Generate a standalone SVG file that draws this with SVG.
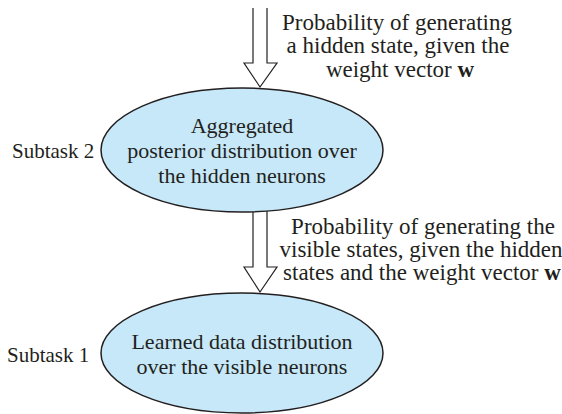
<svg xmlns="http://www.w3.org/2000/svg" width="562" height="414" viewBox="0 0 562 414">
<style>
text{font-family:"Liberation Serif","Times New Roman",serif;font-size:22px;fill:#231f20}
.c{text-anchor:middle}
.lbl{font-size:23px}
.sub{font-size:21px}
.node{fill:#c6e8f8;stroke:#231f20;stroke-width:1.5}
.arr{fill:#fff;stroke:#231f20;stroke-width:1.2;stroke-linejoin:miter}
</style>
<rect width="562" height="414" fill="#fff"/>
<g id="connectors">
<path class="arr" d="M253,8 V63 H244 L260,87 L277,63 H267 V8"/>
<path class="arr" d="M253,211 V267 H244 L260,292 L277,267 H267 V211"/>
</g>
<g id="label-top">
<text class="c lbl" x="397" y="30">Probability of generating</text>
<text class="c lbl" x="398" y="53">a hidden state, given the</text>
<text class="c lbl" x="400" y="77">weight vector <tspan font-weight="bold">w</tspan></text>
</g>
<g id="label-bottom">
<text class="c lbl" x="423" y="234">Probability of generating the</text>
<text class="c lbl" x="421" y="257">visible states, given the hidden</text>
<text class="c lbl" x="422" y="280">states and the weight vector <tspan font-weight="bold">w</tspan></text>
</g>
<g id="subtask2">
<ellipse class="node" cx="242" cy="150" rx="141" ry="62"/>
<text class="c" x="242" y="133">Aggregated</text>
<text class="c" x="242" y="158">posterior distribution over</text>
<text class="c" x="242" y="183">the hidden neurons</text>
<text class="sub" x="12" y="158">Subtask 2</text>
</g>
<g id="subtask1">
<ellipse class="node" cx="242" cy="353" rx="141" ry="60"/>
<text class="c" x="242" y="349">Learned data distribution</text>
<text class="c" x="242" y="374">over the visible neurons</text>
<text class="sub" x="7" y="362">Subtask 1</text>
</g>
</svg>
